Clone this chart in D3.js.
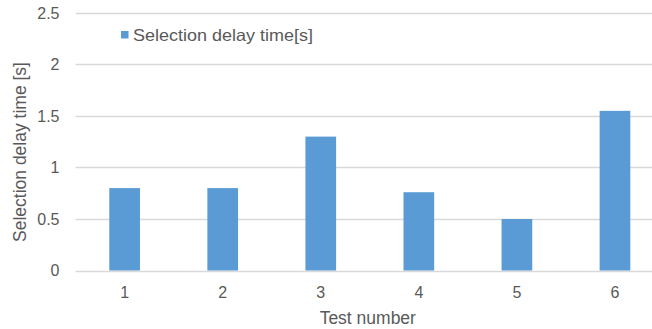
<!DOCTYPE html>
<html><head><meta charset="utf-8">
<script src="https://cdn.jsdelivr.net/npm/d3@7"></script>
<style>body{margin:0;background:#fff}svg{display:block;overflow:hidden}text{font-family:"Liberation Sans",Arial,sans-serif;fill:#595959}</style>
</head><body><svg id="c" width="652" height="329"></svg>
<script>
const categories = ["1","2","3","4","5","6"];
const values = [0.80, 0.80, 1.30, 0.76, 0.50, 1.55];
const yTicks = [0, 0.5, 1, 1.5, 2, 2.5];
const yTickLabels = ["0","0.5","1","1.5","2","2.5"];
const seriesName = "Selection delay time[s]";
const xTitle = "Test number";
const yTitle = "Selection delay time [s]";

(function () {
const svg = d3.select("#c");
const pLeft = 75.6, pRight = 664, pTop = 13, pBottom = 270.5;
const x = d3.scaleBand().domain(categories).range([pLeft, pRight]).paddingInner(0.687).paddingOuter(0.3435);
const y = d3.scaleLinear().domain([0, 2.5]).range([pBottom, pTop]);

// gridlines
svg.append("g").selectAll("line").data(yTicks).join("line")
  .attr("x1", pLeft).attr("x2", pRight)
  .attr("y1", d => Math.round(y(d)) + 0.5).attr("y2", d => Math.round(y(d)) + 0.5)
  .attr("stroke", "#d9d9d9").attr("stroke-width", 1.3);

// bars
svg.append("g").selectAll("rect").data(values).join("rect")
  .attr("x", (d, i) => x(categories[i])).attr("width", x.bandwidth())
  .attr("y", d => y(d)).attr("height", d => y(0) - y(d))
  .attr("fill", "#5b9bd5");

// y tick labels
svg.append("g").selectAll("text").data(yTicks).join("text")
  .attr("x", 59.5).attr("y", d => y(d) + 5.5)
  .attr("text-anchor", "end").attr("font-size", 16)
  .text((d, i) => yTickLabels[i]);

// x tick labels
svg.append("g").selectAll("text").data(categories).join("text")
  .attr("x", d => x(d) + x.bandwidth() / 2).attr("y", 297.5)
  .attr("text-anchor", "middle").attr("font-size", 16)
  .text(d => d);

// axis titles
svg.append("text").attr("x", (pLeft + pRight) / 2 - 2).attr("y", 324)
  .attr("text-anchor", "middle").attr("font-size", 17.5).text(xTitle);
svg.append("text").attr("transform", "translate(26,152) rotate(-90)")
  .attr("text-anchor", "middle").attr("font-size", 17.5).text(yTitle);

// legend
svg.append("rect").attr("x", 121).attr("y", 31).attr("width", 7.5).attr("height", 7.5).attr("fill", "#5b9bd5");
svg.append("text").attr("x", 133).attr("y", 40.5).attr("font-size", 16.5)
  .attr("textLength", 180).attr("lengthAdjust", "spacingAndGlyphs").text(seriesName);
})();
</script></body></html>
